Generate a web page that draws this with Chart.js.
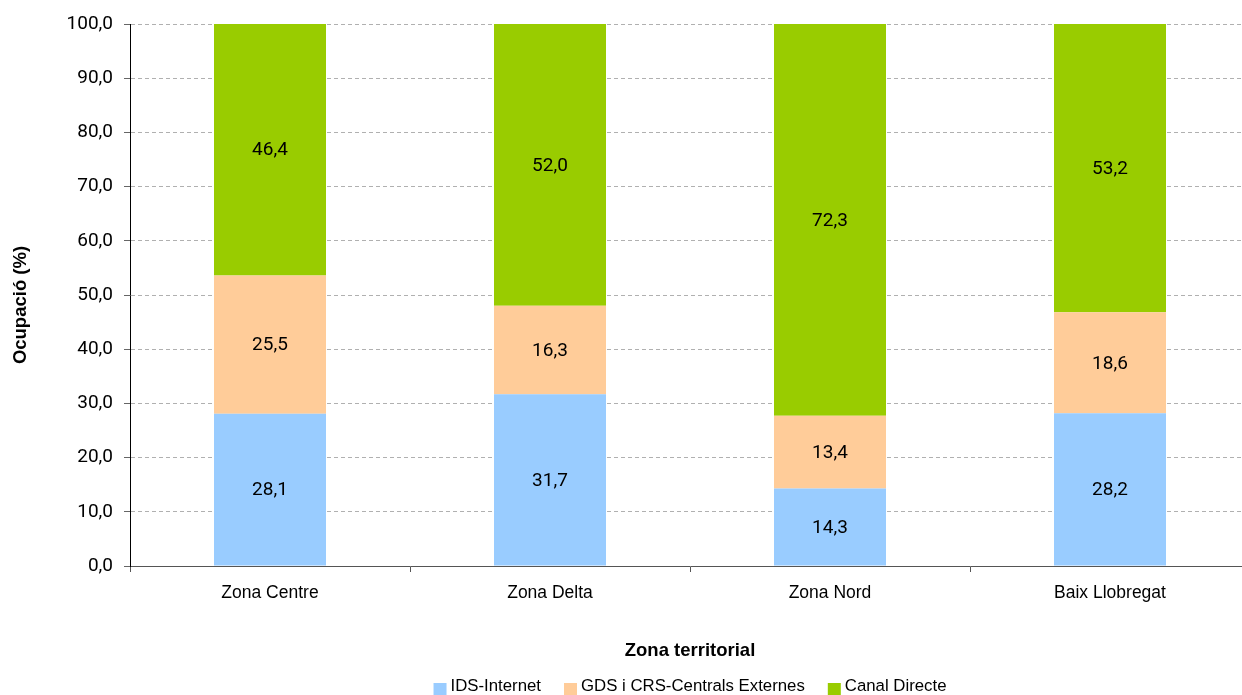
<!DOCTYPE html>
<html>
<head>
<meta charset="utf-8">
<script src="https://cdn.jsdelivr.net/npm/chart.js@4.4.1/dist/chart.umd.min.js"></script>
<style>
  html, body { margin: 0; padding: 0; background: #fff; overflow: hidden; }
  #wrap { width: 1250px; height: 695px; }
</style>
</head>
<body>
<div id="wrap"><canvas id="chart" width="1250" height="695"></canvas></div>
<script>
const zones = ["Zona Centre", "Zona Delta", "Zona Nord", "Baix Llobregat"];
const idsInternet = [28.1, 31.7, 14.3, 28.2];
const gdsCrs = [25.5, 16.3, 13.4, 18.6];
const canalDirecte = [46.4, 52.0, 72.3, 53.2];
const seriesNames = ["IDS-Internet", "GDS i CRS-Centrals Externes", "Canal Directe"];
const seriesColors = ["#99CCFF", "#FFCC99", "#99CC00"];
const yTitle = "Ocupació (%)";
const xTitle = "Zona territorial";

const textFont = "'Liberation Sans', Arial, sans-serif";
const numFont = "Roboto, 'Open Sans', sans-serif";

function fmt(v){
  return v.toFixed(1).replace('.', ',');
}

// labels in the middle of every stacked segment
const segmentLabels = {
  id: 'segmentLabels',
  afterDatasetsDraw(chart){
    const ctx = chart.ctx;
    ctx.save();
    ctx.font = "19px " + numFont;
    ctx.fillStyle = "#000";
    ctx.textAlign = "center";
    ctx.textBaseline = "middle";
    chart.data.datasets.forEach(function(ds, i){
      const meta = chart.getDatasetMeta(i);
      meta.data.forEach(function(bar, j){
        ctx.fillText(fmt(ds.data[j]), bar.x, (bar.y + bar.base) / 2 + 1);
      });
    });
    ctx.restore();
  }
};

// axis titles and legend, placed like the original
const titlesAndLegend = {
  id: 'titlesAndLegend',
  afterDraw(chart){
    const ctx = chart.ctx;
    const area = chart.chartArea;
    const cx = (area.left + area.right) / 2;
    ctx.save();
    ctx.fillStyle = "#000";
    ctx.textBaseline = "middle";
    ctx.textAlign = "center";
    ctx.font = "bold 18.5px " + textFont;
    ctx.fillText(xTitle, cx, 651);

    ctx.save();
    ctx.translate(21, 305);
    ctx.rotate(-Math.PI / 2);
    ctx.fillText(yTitle, 0, 0);
    ctx.restore();

    // legend
    ctx.font = "16.8px " + textFont;
    ctx.textAlign = "left";
    const box = 13, gap = 4, spacing = 23;
    const widths = chart.data.datasets.map(ds => ctx.measureText(ds.label).width);
    let total = 0;
    widths.forEach(w => total += box + gap + w);
    total += spacing * (widths.length - 1);
    let x = cx - total / 2;
    chart.data.datasets.forEach(function(ds, i){
      ctx.fillStyle = ds.backgroundColor;
      ctx.fillRect(x, 683, box, box);
      ctx.fillStyle = "#000";
      ctx.fillText(ds.label, x + box + gap, 686);
      x += box + gap + widths[i] + spacing;
    });
    ctx.restore();
  }
};

const datasets = [idsInternet, gdsCrs, canalDirecte].map(function(values, i){
  return {
    label: seriesNames[i],
    data: values,
    backgroundColor: seriesColors[i],
    borderWidth: 0,
    barPercentage: 0.4,
    categoryPercentage: 1.0
  };
});

new Chart(document.getElementById('chart'), {
  type: 'bar',
  data: { labels: zones, datasets: datasets },
  options: {
    responsive: false,
    animation: false,
    devicePixelRatio: 1,
    layout: { padding: { left: 0, right: 0, top: 24, bottom: 0 } },
    plugins: {
      legend: { display: false },
      tooltip: { enabled: false }
    },
    scales: {
      x: {
        stacked: true,
        offset: true,
        grid: {
          display: true,
          drawOnChartArea: false,
          offset: true,
          tickLength: 6,
          tickColor: "#555"
        },
        border: { display: true, color: "#555", width: 1 },
        ticks: {
          color: "#000",
          padding: 11,
          font: { family: textFont, size: 17.5 }
        },
        afterFit(scale){ scale.height = 129; }
      },
      y: {
        stacked: true,
        min: 0,
        max: 100,
        grid: {
          color: "#b0b0b0",
          tickLength: 6,
          tickColor: "#666",
          tickBorderDash: [],
          drawTicks: true
        },
        border: { display: true, color: "#000", width: 1, dash: [4, 3] },
        ticks: {
          stepSize: 10,
          color: "#000",
          padding: 11,
          font: { family: numFont, size: 19 },
          callback: function(v){ return fmt(v); }
        },
        afterFit(scale){ scale.width = 130; }
      }
    }
  },
  plugins: [segmentLabels, titlesAndLegend]
});
</script>
</body>
</html>
